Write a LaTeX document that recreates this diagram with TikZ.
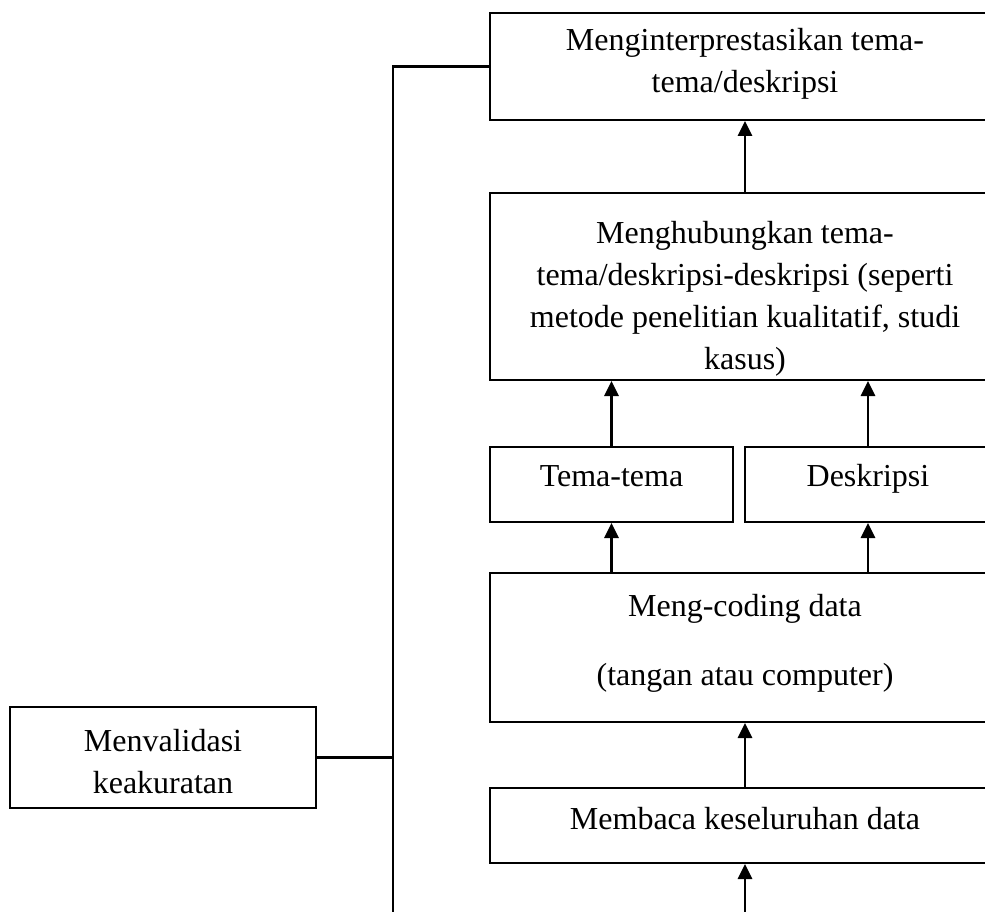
\documentclass[tikz,border=0pt]{standalone}
\usepackage{fontspec}
\setmainfont{Liberation Serif}
\usetikzlibrary{arrows.meta}
\begin{document}
\begin{tikzpicture}[x=1pt,y=1pt,
  box/.style={draw, line width=2pt, inner sep=0pt},
  txt/.style={inner sep=0pt, align=center, font=\fontsize{32}{42}\selectfont},
  one/.style={txt, text height=22pt, text depth=7pt},
  conn/.style={line width=2.6pt},
  arr/.style={line width=2.7pt, -{Triangle[width=14pt,length=15pt]}}]
\useasboundingbox (0,0) rectangle (985,-912);
\clip (0,0) rectangle (985,-912);
\node[box, minimum width=510, minimum height=107] (interp) at (745,-66.5) {};
\node[box, minimum width=510, minimum height=187] (hub) at (745,-286.5) {};
\node[box, minimum width=243, minimum height=75] (tema) at (611.5,-484.5) {};
\node[box, minimum width=246, minimum height=75] (desk) at (868,-484.5) {};
\node[box, minimum width=510, minimum height=149] (coding) at (745,-647.5) {};
\node[box, minimum width=510, minimum height=75] (baca) at (745,-825.5) {};
\node[box, minimum width=306, minimum height=101] (valid) at (163,-757.5) {};
\node[txt] (interpT) at ([yshift=3]interp.center) {Menginterprestasikan tema-\\tema/deskripsi};
\node[txt] (hubT) at ([yshift=-12]hub.center)
  {Menghubungkan tema-\\tema/deskripsi-deskripsi (seperti\\metode penelitian kualitatif, studi\\kasus)};
\node[one] (temaT) at ([yshift=5.5]tema.center) {Tema-tema};
\node[one] (deskT) at ([yshift=5.5]desk.center) {Deskripsi};
\node[txt, font=\fontsize{32}{69}\selectfont] (codingT) at ([yshift=4]coding.center)
  {Meng-coding data\\(tangan atau computer)};
\node[one] (bacaT) at ([yshift=3.5]baca.center) {Membaca keseluruhan data};
\node[txt] (validT) at ([yshift=-4]valid.center) {Menvalidasi\\keakuratan};
\coordinate (bus) at (393,-912);
\coordinate (start) at (745,-912);
\draw[conn] (bus) -- (bus |- interp.west) -- (interp.west);
\draw[conn] (valid.east) -- (valid.east -| bus);
\draw[arr] (start) -- (baca.south);
\draw[arr] (baca.north) -- (coding.south);
\draw[arr] (coding.north -| tema.north) -- (tema.south);
\draw[arr] (coding.north -| desk.north) -- (desk.south);
\draw[arr] (tema.north) -- (tema.north |- hub.south);
\draw[arr] (desk.north) -- (desk.north |- hub.south);
\draw[arr] (hub.north) -- (interp.south);
\end{tikzpicture}
\end{document}
